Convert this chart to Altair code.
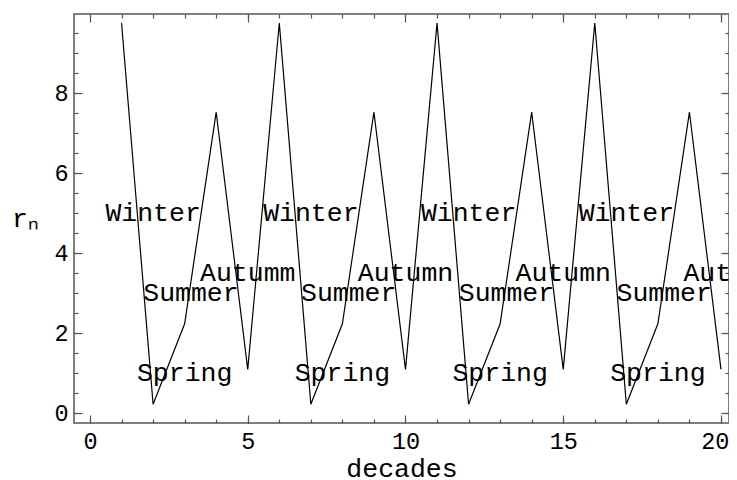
import altair as alt
import pandas as pd

decades = [1, 2, 3, 4, 5, 6, 7, 8, 9, 10, 11, 12, 13, 14, 15, 16, 17, 18, 19, 20]
r_n = [9.75, 0.22, 2.23, 7.52, 1.09,
       9.75, 0.22, 2.23, 7.52, 1.09,
       9.75, 0.22, 2.23, 7.52, 1.09,
       9.75, 0.22, 2.23, 7.52, 1.09]

label_text = ["Winter", "Spring", "Summer", "Autumm",
              "Winter", "Spring", "Summer", "Autumn",
              "Winter", "Spring", "Summer", "Autumn",
              "Winter", "Spring", "Summer", "Autumn"]
label_x = [2, 3, 3.2, 5,
           7, 8, 8.2, 10,
           12, 13, 13.2, 15,
           17, 18, 18.2, 20.32]
label_y = [5, 1, 3, 3.5,
           5, 1, 3, 3.5,
           5, 1, 3, 3.5,
           5, 1, 3, 3.5]

x_major = [0, 5, 10, 15, 20]
x_minor = [0, 1, 2, 3, 4, 5, 6, 7, 8, 9, 10, 11, 12, 13, 14, 15, 16, 17, 18, 19, 20]
y_major = [0, 2, 4, 6, 8]
y_minor = [0, 0.5, 1, 1.5, 2, 2.5, 3, 3.5, 4, 4.5, 5, 5.5, 6, 6.5, 7, 7.5, 8, 8.5, 9, 9.5]

line_df = pd.DataFrame({"decades": decades, "r": r_n})
lab_df = pd.DataFrame({"decades": label_x, "r": label_y, "t": label_text})

FONT = "Liberation Mono"
FRAME = "#555555"
xs = alt.Scale(domain=[-0.507, 20.254], nice=False, zero=False)
ys = alt.Scale(domain=[-0.25, 9.975], nice=False, zero=False)


def ax(orient, size, values, labels=False, **kw):
    return alt.Axis(orient=orient, offset=-size, tickSize=size, values=values,
                    domain=False, grid=False, labels=labels, tickColor=FRAME,
                    tickWidth=1.2, labelFont=FONT, labelFontSize=23.5, labelColor="black",
                    labelPadding=6, titleFont=FONT, titleFontSize=26.5,
                    titleFontWeight="normal", titleColor="black", **kw)


main = alt.Chart(line_df).mark_line(color="black", strokeWidth=1.2).encode(
    x=alt.X("decades:Q", scale=xs, title="decades",
            axis=ax("bottom", 8, x_major, labels=True, titleBaseline="alphabetic",
                    titleY=61, labelFlush=10, labelFlushOffset=8)),
    y=alt.Y("r:Q", scale=ys, title="rₙ",
            axis=ax("left", 8, y_major, labels=True, titleAngle=0, titleAlign="center",
                    titleBaseline="middle", titleX=-57, titleY=204, labelFlush=False)),
)

labels = alt.Chart(lab_df).mark_text(font=FONT, fontSize=26.5, color="black",
                                     align="center", baseline="middle", clip=True).encode(
    x=alt.X("decades:Q", scale=xs, title=None, axis=ax("bottom", 4, x_minor)),
    y=alt.Y("r:Q", scale=ys, title=None, axis=ax("left", 4, y_minor)),
    text="t:N",
)

frame_major = alt.Chart(line_df).mark_line(opacity=0).encode(
    x=alt.X("decades:Q", scale=xs, title=None, axis=ax("top", 8, x_major)),
    y=alt.Y("r:Q", scale=ys, title=None, axis=ax("right", 8, y_major)),
)

frame_minor = alt.Chart(line_df).mark_line(opacity=0).encode(
    x=alt.X("decades:Q", scale=xs, title=None, axis=ax("top", 4, x_minor)),
    y=alt.Y("r:Q", scale=ys, title=None, axis=ax("right", 4, y_minor)),
)

chart = alt.layer(main, labels, frame_major, frame_minor).resolve_axis(
    x="independent", y="independent"
).properties(
    width=655, height=409,
    autosize=alt.AutoSizeParams(type="none"),
    padding={"left": 66, "top": 6, "right": 0, "bottom": 57},
).configure_view(stroke=FRAME, strokeWidth=1.5)

chart.save("out.html", embed_options={"renderer": "svg", "actions": False})
